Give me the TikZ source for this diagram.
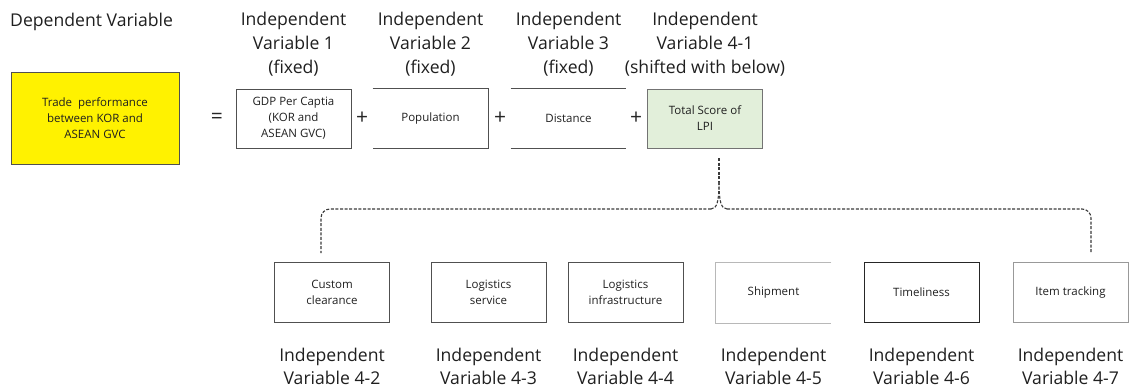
\documentclass[tikz,border=0pt]{standalone}
\usepackage{fontspec}
\setmainfont{Open Sans}
\definecolor{lpigreen}{HTML}{E2EFDA}
\definecolor{boxline}{HTML}{505050}
\definecolor{lightline}{HTML}{B8B8B8}
\definecolor{midline}{HTML}{999999}
\definecolor{dashcol}{HTML}{3A3A3A}
\begin{document}
\begin{tikzpicture}[x=1pt,y=-1pt,
  bigtext/.style={font=\fontsize{17.6}{24}\selectfont, text=black!88, align=center, inner sep=0pt},
  botlabel/.style={font=\fontsize{17.6}{23}\selectfont, text=black!88, align=center, inner sep=0pt},
  boxtext/.style={font=\fontsize{11.5}{16}\selectfont, text=black!88, align=center, inner sep=0pt},
  vbox/.style={boxtext, minimum width=115pt, minimum height=59pt, line width=0.9pt},
  opsym/.style={font=\fontsize{21}{22}\selectfont, text=black!85, inner sep=0pt},
  dashline/.style={draw=dashcol, line width=1.1pt, dash pattern=on 3pt off 1.6pt, rounded corners=9pt}
]
\useasboundingbox (0,0) rectangle (1130,388);

% header
\node[bigtext, anchor=west] (dep) at (10,22) {Dependent Variable};
\node[bigtext] (h1) at (293.5,44) {Independent\\Variable 1\\(fixed)};
\node[bigtext] (h2) at (430.5,44) {Independent\\Variable 2\\(fixed)};
\node[bigtext] (h3) at (568.5,44) {Independent\\Variable 3\\(fixed)};
\node[bigtext] (h4) at (705,44) {Independent\\Variable 4-1\\(shifted with below)};

% top row
\node[vbox, draw=boxline, fill=yellow, minimum width=168pt, minimum height=92pt] (trade) at (95,118)
  {Trade\ \ performance\\between KOR and\\ASEAN GVC};
\node[opsym] (eq) at (217,118) {=};
\node[vbox, draw=boxline] (gdp) at (293.5,118.5) {GDP Per Captia\\(KOR and\\ASEAN GVC)};
\node[opsym] (p1) at (362,118) {+};
\node[vbox] (pop) at (430.5,118.5) {Population};
\draw[boxline, line width=0.9pt] (pop.north west) -- (pop.north east) -- (pop.south east) -- (pop.south west);
\node[opsym] (p2) at (500,118) {+};
\node[vbox] (dist) at (568.5,118.5) {Distance};
\draw[boxline, line width=0.9pt] (dist.north west) -- (dist.north east);
\draw[boxline, line width=0.9pt] (dist.south west) -- (dist.south east);
\node[opsym] (p3) at (636,118) {+};
\node[vbox, draw=black!55, fill=lpigreen] (lpi) at (705,118.5) {Total Score of\\LPI};

% bottom row
\node[vbox, draw=boxline, minimum height=60pt] (cc) at (332,292.5) {Custom\\clearance};
\node[vbox, draw=boxline, minimum height=60pt] (ls) at (488.5,292.5) {Logistics\\service};
\node[vbox, draw=boxline, minimum height=60pt] (li) at (625.5,292.5) {Logistics\\infrastructure};
\node[vbox, minimum height=60pt] (sh) at (773.5,292.5) {Shipment};
\draw[lightline, line width=0.9pt] (sh.north east) -- (sh.north west) -- (sh.south west) -- (sh.south east);
\node[vbox, draw=black!85, minimum height=60pt] (tl) at (921.5,292.5) {Timeliness};
\node[vbox, draw=midline, minimum height=60pt] (it) at (1070.5,292.5) {Item tracking};

% bottom labels
\node[botlabel] (l2) at (cc |- 0,366) {Independent\\Variable 4-2};
\node[botlabel] (l3) at (ls |- 0,366) {Independent\\Variable 4-3};
\node[botlabel] (l4) at (li |- 0,366) {Independent\\Variable 4-4};
\node[botlabel] (l5) at (sh |- 0,366) {Independent\\Variable 4-5};
\node[botlabel] (l6) at (tl |- 0,366) {Independent\\Variable 4-6};
\node[botlabel] (l7) at (it |- 0,366) {Independent\\Variable 4-7};

% brace connector
\coordinate (btop) at (719,158);
\coordinate (bpeak) at (719,182);
\coordinate (lend) at (321,253);
\coordinate (rend) at (1091,253);
\draw[dashline] (btop) -- (bpeak);
\draw[dashline, rounded corners=0pt] (bpeak) .. controls (719,201) and (717,209) .. (711,209);
\draw[dashline, rounded corners=0pt] (bpeak) .. controls (719,201) and (721,209) .. (727,209);
\draw[dashline] (711,209) -- (lend |- 0,209) -- (lend);
\draw[dashline] (727,209) -- (rend |- 0,209) -- (rend);
\end{tikzpicture}
\end{document}
